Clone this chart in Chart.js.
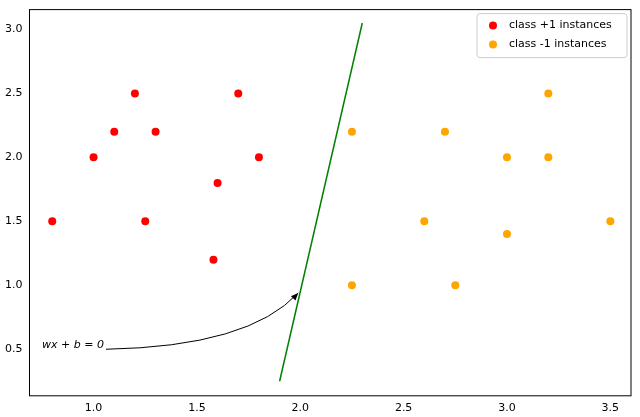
<!DOCTYPE html>
<html lang="en">
<head>
  <meta charset="UTF-8" />
  <script src="https://cdn.jsdelivr.net/npm/chart.js"></script>
  <style>
    body { margin: 0; background: white; }
    #wrap { width: 640px; height: 417px; }
  </style>
</head>
<body>
  <div id="wrap"><canvas id="c"></canvas></div>
  <script>
    const posX = [0.8, 1.0, 1.1, 1.2, 1.25, 1.3, 1.6, 1.58, 1.7, 1.8];
    const posY = [1.5, 2.0, 2.2, 2.5, 1.5, 2.2, 1.8, 1.2, 2.5, 2.0];
    const negX = [2.25, 2.25, 2.6, 2.7, 2.75, 3.0, 3.0, 3.2, 3.2, 3.5];
    const negY = [2.2, 1.0, 1.5, 2.2, 1.0, 2.0, 1.4, 2.5, 2.0, 1.5];
    const lineX = [1.9, 2.3];
    const lineY = [0.25, 3.05];
    const xTicks = [1.0, 1.5, 2.0, 2.5, 3.0, 3.5];
    const yTicks = [0.5, 1.0, 1.5, 2.0, 2.5, 3.0];
    const labels = ["class +1 instances", "class -1 instances"];
    const colors = ["#ff0000", "#ffa500"];

    const toPts = (xs, ys) => xs.map((x, i) => ({ x, y: ys[i] }));

    const extras = {
      id: "extras",
      afterDraw(chart) {
        const { ctx, chartArea: a, scales: { x, y } } = chart;
        ctx.save();
        // frame
        ctx.strokeStyle = "#000"; ctx.lineWidth = 1;
        ctx.strokeRect(a.left, a.top, a.right - a.left, a.bottom - a.top);
        // annotation arrow
        const sx = x.getPixelForValue(1.06), sy = y.getPixelForValue(0.5);
        const cx = x.getPixelForValue(1.75), cy = y.getPixelForValue(0.52);
        const ex = x.getPixelForValue(1.99), ey = y.getPixelForValue(0.94);
        ctx.beginPath(); ctx.moveTo(sx, sy); ctx.quadraticCurveTo(cx, cy, ex, ey); ctx.stroke();
        const ang = Math.atan2(ey - cy, ex - cx);
        ctx.beginPath();
        ctx.moveTo(ex, ey);
        ctx.lineTo(ex - 8 * Math.cos(ang - 0.4), ey - 8 * Math.sin(ang - 0.4));
        ctx.lineTo(ex - 8 * Math.cos(ang + 0.4), ey - 8 * Math.sin(ang + 0.4));
        ctx.closePath(); ctx.fillStyle = "#000"; ctx.fill();
        ctx.font = "italic 11px 'DejaVu Sans'";
        ctx.textAlign = "right"; ctx.textBaseline = "middle";
        ctx.fillText("wx + b = 0", sx - 2, sy - 4);
        // legend
        const w = 150, h = 44, lx = a.right - w - 4, ly = a.top + 4;
        ctx.fillStyle = "rgba(255,255,255,0.85)";
        ctx.strokeStyle = "#ccc";
        ctx.beginPath(); ctx.roundRect(lx, ly, w, h, 3); ctx.fill(); ctx.stroke();
        ctx.font = "11px 'DejaVu Sans'"; ctx.textAlign = "left";
        labels.forEach((t, i) => {
          const yy = ly + 12 + i * 19;
          ctx.fillStyle = colors[i];
          ctx.beginPath(); ctx.arc(lx + 16, yy, 4, 0, Math.PI * 2); ctx.fill();
          ctx.fillStyle = "#000";
          ctx.fillText(t, lx + 32, yy);
        });
        ctx.restore();
      }
    };

    const tickFont = { family: "DejaVu Sans", size: 11 };
    new Chart(document.getElementById("c"), {
      type: "scatter",
      data: {
        datasets: [
          { label: labels[0], data: toPts(posX, posY), backgroundColor: colors[0], borderWidth: 0, pointRadius: 4 },
          { label: labels[1], data: toPts(negX, negY), backgroundColor: colors[1], borderWidth: 0, pointRadius: 4 },
          { type: "line", data: toPts(lineX, lineY), borderColor: "#008000", borderWidth: 1.5, pointRadius: 0, showLine: true }
        ]
      },
      options: {
        responsive: true, maintainAspectRatio: false, animation: false,
        layout: { padding: { top: 4, right: 9, left: 2, bottom: 0 } },
        plugins: { legend: { display: false }, tooltip: { enabled: false } },
        scales: {
          x: {
            min: 0.69, max: 3.6,
            afterBuildTicks: s => { s.ticks = xTicks.map(v => ({ value: v })); },
            ticks: { font: tickFont, color: "#000", callback: v => v.toFixed(1), maxRotation: 0, padding: 2 },
            grid: { display: false, drawTicks: true, tickLength: 4, tickColor: "#000" },
            border: { display: false }
          },
          y: {
            min: 0.136, max: 3.155,
            afterBuildTicks: s => { s.ticks = yTicks.map(v => ({ value: v })); },
            ticks: { font: tickFont, color: "#000", callback: v => v.toFixed(1) },
            grid: { display: false, drawTicks: true, tickLength: 4, tickColor: "#000" },
            border: { display: false }
          }
        }
      },
      plugins: [extras]
    });
  </script>
</body>
</html>
